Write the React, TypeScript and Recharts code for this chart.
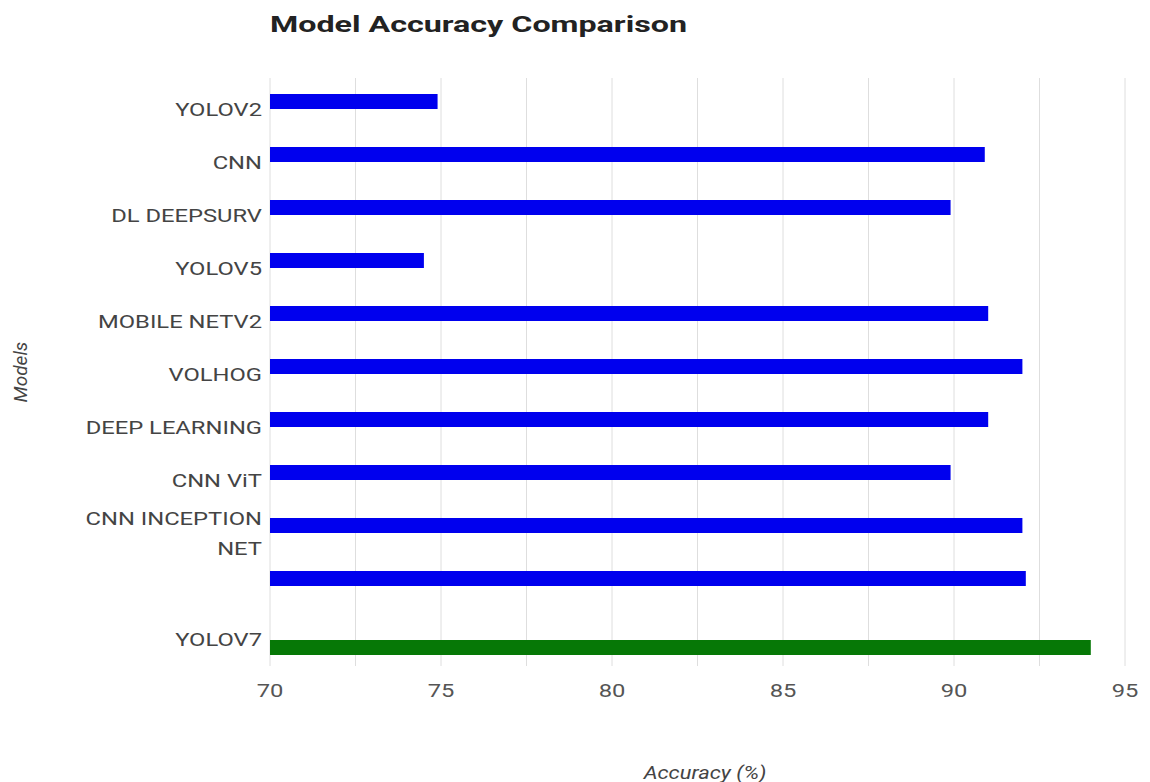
import React from 'react';
import { BarChart, Bar, XAxis, YAxis, CartesianGrid } from 'recharts';

const models = [
  'YOLOV2',
  'CNN',
  'DL DEEPSURV',
  'YOLOV5',
  'MOBILE NETV2',
  'VOLHOG',
  'DEEP LEARNING',
  'CNN ViT',
  'CNN INCEPTION NET',
  '',
  'YOLOV7',
];
const otherAccuracy = [74.9, 90.9, 89.9, 74.5, 91.0, 92.0, 91.0, 89.9, 92.0, 92.1, null];
const yolov7Accuracy = [null, null, null, null, null, null, null, null, null, null, 94.0];
// labelled ticks every 5, gridlines every 2.5
const gridTicks = [70, 72.5, 75, 77.5, 80, 82.5, 85, 87.5, 90, 92.5, 95];
const labelledTicks = [70, 75, 80, 85, 90, 95];

const data = models.map((name, i) => ({
  name,
  other: otherAccuracy[i],
  yolov7: yolov7Accuracy[i],
}));

const FONT = 'Roboto, "Noto Sans", sans-serif';
const STRETCH = 1.25;

function wrap(label: string, max = 13) {
  const lines: string[] = [];
  let cur = '';
  for (const w of label.split(' ')) {
    if (cur && (cur + ' ' + w).length > max) {
      lines.push(cur);
      cur = w;
    } else {
      cur = cur ? cur + ' ' + w : w;
    }
  }
  if (cur) lines.push(cur);
  return lines;
}

function ModelTick({ x, y, payload }: any) {
  const lines = wrap(String(payload.value ?? ''));
  return (
    <g transform={`translate(${x - 6},${y}) scale(${STRETCH},1)`}>
      {lines.map((line, i) => (
        <text
          key={i}
          x={0}
          y={(i - (lines.length - 1) / 2) * 30}
          dy="0.36em"
          textAnchor="end"
          fill="#444"
          fontSize={19}
          fontFamily={FONT}
        >
          {line}
        </text>
      ))}
    </g>
  );
}

function AccuracyTick({ x, y, payload }: any) {
  if (!labelledTicks.includes(payload.value)) return null;
  return (
    <g transform={`translate(${x},${y + 22}) scale(${STRETCH},1)`}>
      <text x={0} y={0} dy="0.36em" textAnchor="middle" fill="#555" fontSize={19} fontFamily={FONT}>
        {payload.value}
      </text>
    </g>
  );
}

export default function App() {
  return (
    <div style={{ position: 'absolute', left: 0, top: 0, width: 1150, height: 782, background: '#fff' }}>
      <BarChart
        width={1150}
        height={782}
        data={data}
        layout="vertical"
        margin={{ top: 78, right: 25, left: 20, bottom: 56 }}
        barGap={1}
      >
        <CartesianGrid horizontal={false} stroke="#dedede" />
        <XAxis
          type="number"
          domain={[70, 95]}
          ticks={gridTicks}
          interval={0}
          allowDataOverflow
          axisLine={false}
          tickLine={false}
          tickSize={0}
          height={60}
          tick={<AccuracyTick />}
        />
        <YAxis
          type="category"
          dataKey="name"
          width={250}
          axisLine={false}
          tickLine={false}
          tickSize={0}
          interval={0}
          padding={{ top: 5, bottom: 0 }}
          tick={<ModelTick />}
        />
        <Bar dataKey="other" fill="#0000ee" barSize={15} isAnimationActive={false} />
        <Bar dataKey="yolov7" fill="#067806" barSize={15} isAnimationActive={false} />
      </BarChart>
      <svg
        width={1150}
        height={782}
        style={{ position: 'absolute', left: 0, top: 0, pointerEvents: 'none' }}
      >
        <text
          x={270}
          y={32}
          fontFamily={FONT}
          fontWeight="bold"
          fontSize={22}
          fill="#222"
          textLength={417}
          lengthAdjust="spacingAndGlyphs"
        >
          Model Accuracy Comparison
        </text>
        <text
          transform="translate(20,372) rotate(-90)"
          dy="0.36em"
          textAnchor="middle"
          fontFamily={FONT}
          fontStyle="italic"
          fontSize={19}
          fill="#444"
        >
          Models
        </text>
        <g transform="translate(705,772) scale(1.15,1)">
          <text dy="0.36em" textAnchor="middle" fontFamily={FONT} fontStyle="italic" fontSize={19} fill="#444">
            Accuracy (%)
          </text>
        </g>
      </svg>
    </div>
  );
}
